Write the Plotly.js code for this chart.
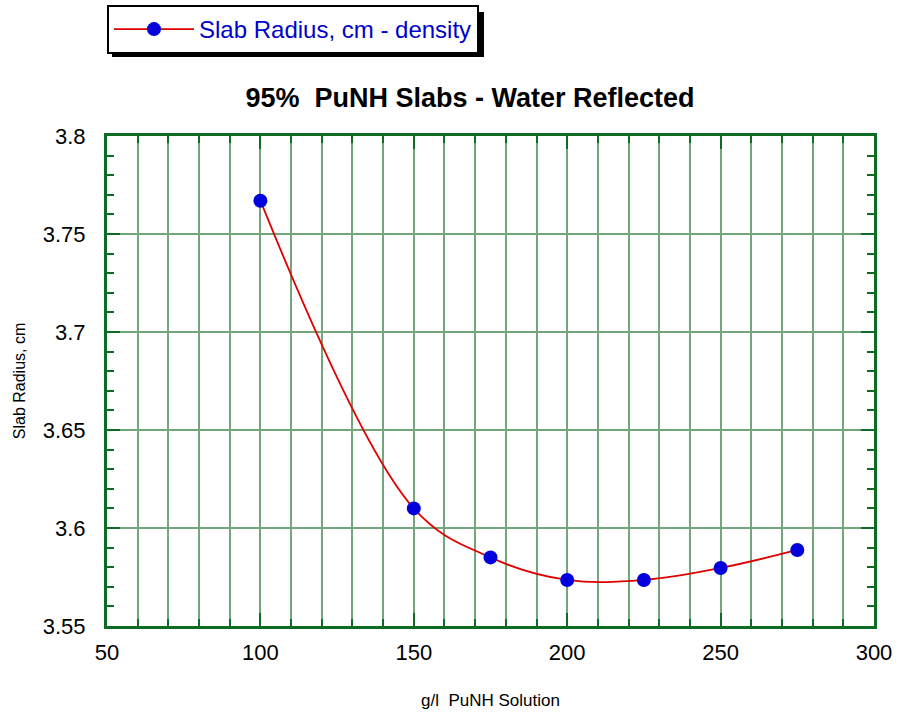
<!DOCTYPE html>
<html>
<head>
<meta charset="utf-8">
<script src="https://cdn.plot.ly/plotly-3.0.1.min.js"></script>
<style>html,body{margin:0;padding:0;background:#fff;}#chart{width:898px;height:715px;}</style>
</head>
<body>
<div id="chart"></div>
<script>
// Data
const concentration = [100, 150, 175, 200, 225, 250, 275];           // g/l PuNH
const slabRadius    = [3.767, 3.610, 3.585, 3.5735, 3.5735, 3.5796, 3.5888]; // cm
const seriesName = 'Slab Radius, cm - density';
const chartTitle = '95%  PuNH Slabs - Water Reflected';
const xTitle = 'g/l  PuNH Solution';
const yTitle = 'Slab Radius, cm';

const W = 898, H = 715;
const M = {l: 107, r: 24, t: 136, b: 89, autoexpand: false};
const pw = W - M.l - M.r, ph = H - M.t - M.b;
const px = x => (x - M.l) / pw;        // pixel -> paper x
const py = y => (H - M.b - y) / ph;    // pixel -> paper y

const gridCol = '#74a67c';
const axCol = '#0d6b24';
const font = 'Arial, "Liberation Sans", Helvetica, sans-serif';

const trace = {
  x: concentration, y: slabRadius, name: seriesName,
  type: 'scatter', mode: 'lines+markers',
  line: {color: '#e00000', width: 1.8, shape: 'spline', smoothing: 1.05},
  marker: {color: '#0000dd', size: 14}
};

const layout = {
  width: W, height: H,
  margin: M,
  paper_bgcolor: '#fff', plot_bgcolor: '#fff',
  font: {family: font, color: '#000'},
  showlegend: true,
  title: {text: chartTitle, font: {family: font, size: 27, color: '#000', weight: 'bold'},
          xref: 'paper', x: px(470), xanchor: 'center', yref: 'container', y: 1 - 98 / H, yanchor: 'middle'},
  legend: {x: 0, xanchor: 'left', y: py(5), yanchor: 'top', bgcolor: '#fff', itemwidth: 80,
           bordercolor: '#000', borderwidth: 2, font: {family: font, size: 24, color: '#0000cc'}},
  xaxis: {
    range: [50, 300], dtick: 50, tick0: 50,
    showline: true, linecolor: axCol, linewidth: 3, mirror: 'allticks',
    ticks: 'inside', ticklen: 13, tickwidth: 2, tickcolor: axCol,
    showgrid: true, gridcolor: gridCol, gridwidth: 2, zeroline: false,
    tickfont: {family: font, size: 22, color: '#000'}, ticklabelstandoff: 5,
    minor: {dtick: 10, ticks: 'inside', ticklen: 7, tickwidth: 2, tickcolor: axCol,
            showgrid: true, gridcolor: gridCol, gridwidth: 2},
    title: {text: xTitle, font: {family: font, size: 17, color: '#000'}, standoff: 30}
  },
  yaxis: {
    range: [3.55, 3.8], dtick: 0.05, tick0: 3.55,
    showline: true, linecolor: axCol, linewidth: 3, mirror: 'allticks',
    ticks: 'inside', ticklen: 13, tickwidth: 2, tickcolor: axCol,
    showgrid: true, gridcolor: gridCol, gridwidth: 2, zeroline: false,
    tickfont: {family: font, size: 22, color: '#000'}, ticklabelstandoff: 14,
    minor: {dtick: 0.01, ticks: 'inside', ticklen: 7, tickwidth: 2, tickcolor: axCol, showgrid: false},
    title: {text: yTitle, font: {family: font, size: 16, color: '#000'}, standoff: 14}
  },
  shapes: [
    {type: 'rect', xref: 'paper', yref: 'paper', layer: 'below',
     x0: px(112), x1: px(484), y0: py(12), y1: py(57),
     fillcolor: '#000', line: {width: 0}}
  ]
};

Plotly.newPlot('chart', [trace], layout, {displayModeBar: false, responsive: false});
</script>
</body>
</html>
